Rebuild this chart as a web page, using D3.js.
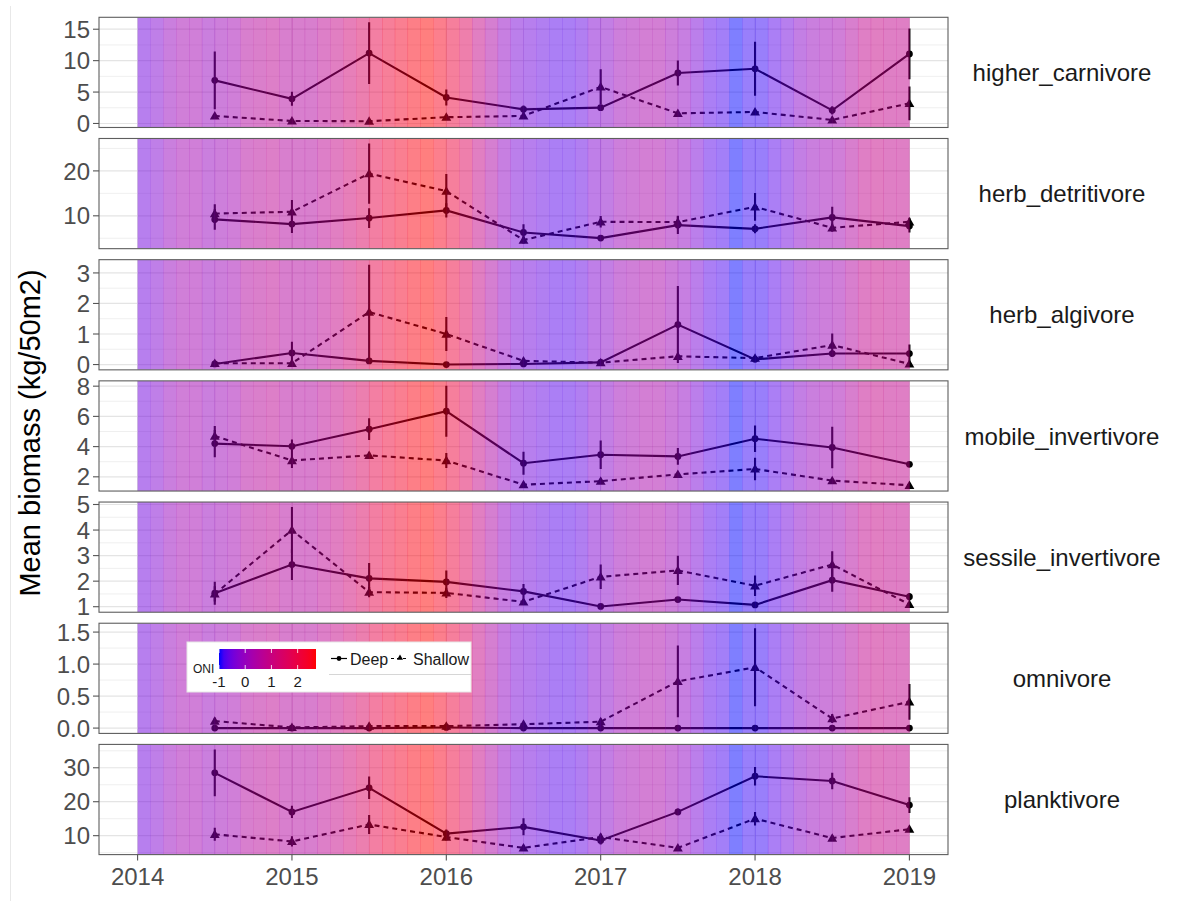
<!DOCTYPE html>
<html><head><meta charset="utf-8">
<script src="https://cdn.jsdelivr.net/npm/d3@7"></script>
<style>
body{margin:0;background:#fff}
text{font-family:"Liberation Sans",Arial,Helvetica,sans-serif}
</style>
</head><body>
<svg id="chart" width="1177" height="901"></svg>
<script>
// ---------------- data ----------------
const sampleYears = [2014.5, 2015, 2015.5, 2016, 2016.5, 2017, 2017.5, 2018, 2018.5, 2019];
const xTickYears = [2014, 2015, 2016, 2017, 2018, 2019];
const groups = ["higher_carnivore", "herb_detritivore", "herb_algivore", "mobile_invertivore",
                "sessile_invertivore", "omnivore", "planktivore"];

// monthly ONI (Jan..Dec) shading the background
const oni2014 = [-0.5, -0.3, 0.0, 0.2, 0.2, 0.0, 0.1, 0.2, 0.5, 0.6, 0.7, 0.5];
const oni2015 = [0.5, 0.5, 0.7, 0.9, 1.2, 1.5, 1.9, 2.2, 2.4, 2.6, 2.7, 2.5];
const oni2016 = [2.1, 1.6, 0.9, 0.4, -0.1, -0.4, -0.5, -0.6, -0.7, -0.7, -0.6, -0.3];
const oni2017 = [-0.2, 0.1, 0.2, 0.3, 0.3, 0.1, -0.1, -0.4, -0.7, -0.8, -1.0, -0.9];
const oni2018 = [-0.9, -0.7, -0.5, -0.2, 0.0, 0.1, 0.2, 0.5, 0.8, 0.9, 0.8, 0.8];
const oniLegendTicks = [-1, 0, 1, 2];

// higher_carnivore
const hcDeepMean = [6.86, 3.93, 11.2, 4.14, 2.25, 2.52, 8.03, 8.7, 2.09, 11.07];
const hcDeepSE = [4.6, 1.1, 4.9, 1.26, 0.6, 0.3, 2.0, 4.3, 0.65, 4.05];
const hcShallowMean = [1.2, 0.4, 0.36, 1.0, 1.2, 5.82, 1.62, 1.83, 0.57, 3.2];
const hcShallowSE = [0.3, 0.2, 0.2, 0.3, 0.4, 2.8, 0.3, 0.3, 0.2, 2.7];
const hcTicks = [0, 5, 10, 15];
// herb_detritivore
const hdDeepMean = [9.2, 8.16, 9.5, 11.2, 6.3, 5.04, 7.93, 7.1, 9.64, 7.71];
const hdDeepSE = [2.3, 2.0, 2.2, 1.6, 1.8, 0.4, 2.0, 1.0, 2.4, 1.4];
const hdShallowMean = [10.5, 10.9, 19.4, 15.5, 4.6, 8.67, 8.6, 12.0, 7.33, 8.67];
const hdShallowSE = [2.1, 2.6, 6.7, 3.8, 0.8, 1.3, 1.4, 3.1, 0.9, 0.9];
const hdTicks = [10, 20];
// herb_algivore
const haDeepMean = [0.02, 0.38, 0.12, 0.0, 0.02, 0.07, 1.31, 0.17, 0.36, 0.36];
const haDeepSE = [0.02, 0.37, 0.08, 0.01, 0.02, 0.03, 1.26, 0.04, 0.1, 0.3];
const haShallowMean = [0.04, 0.04, 1.72, 1.0, 0.12, 0.06, 0.27, 0.21, 0.64, 0.02];
const haShallowSE = [0.03, 0.03, 1.55, 0.56, 0.05, 0.03, 0.1, 0.05, 0.38, 0.02];
const haTicks = [0, 1, 2, 3];
// mobile_invertivore
const miDeepMean = [4.2, 4.02, 5.15, 6.34, 2.9, 3.46, 3.35, 4.52, 3.94, 2.83];
const miDeepSE = [0.9, 0.45, 0.72, 1.68, 0.76, 0.95, 0.55, 0.87, 1.37, 0.15];
const miShallowMean = [4.7, 3.08, 3.42, 3.08, 1.48, 1.71, 2.16, 2.52, 1.75, 1.44];
const miShallowSE = [0.67, 0.49, 0.2, 0.5, 0.08, 0.1, 0.15, 0.75, 0.1, 0.05];
const miTicks = [2, 4, 6, 8];
// sessile_invertivore
const siDeepMean = [1.53, 2.65, 2.11, 1.97, 1.6, 1.01, 1.28, 1.07, 2.04, 1.39];
const siDeepSE = [0.45, 0.6, 0.6, 0.45, 0.29, 0.03, 0.1, 0.05, 0.45, 0.15];
const siShallowMean = [1.5, 4.0, 1.57, 1.54, 1.19, 2.17, 2.42, 1.82, 2.65, 1.09];
const siShallowSE = [0.3, 0.9, 0.2, 0.2, 0.1, 0.48, 0.57, 0.4, 0.52, 0.08];
const siTicks = [1, 2, 3, 4, 5];
// omnivore
const omDeepMean = [0.0, 0.0, 0.0, 0.01, 0.0, 0.0, 0.0, 0.0, 0.0, 0.0];
const omDeepSE = [0.005, 0.005, 0.005, 0.005, 0.005, 0.005, 0.005, 0.005, 0.005, 0.005];
const omShallowMean = [0.11, 0.01, 0.03, 0.03, 0.06, 0.1, 0.73, 0.95, 0.15, 0.41];
const omShallowSE = [0.05, 0.01, 0.02, 0.02, 0.03, 0.05, 0.56, 0.61, 0.07, 0.28];
const omTicks = [0, 0.5, 1.0, 1.5];
// planktivore
const plDeepMean = [28.5, 17.0, 24.1, 10.6, 12.6, 8.6, 17.0, 27.5, 26.1, 19.0];
const plDeepSE = [6.9, 1.8, 3.3, 1.2, 2.5, 1.2, 1.0, 2.7, 2.4, 2.3];
const plShallowMean = [10.4, 8.3, 13.3, 9.6, 6.4, 9.6, 6.4, 15.0, 9.3, 11.9];
const plShallowSE = [1.9, 1.5, 2.8, 1.0, 0.5, 1.0, 0.5, 2.0, 0.8, 0.6];
const plTicks = [10, 20, 30];

const yTitle = "Mean biomass (kg/50m2)";
const seriesNames = ["Deep", "Shallow"];

// ---------------- build ----------------
const panels = [
  [hcDeepMean, hcDeepSE, hcShallowMean, hcShallowSE, hcTicks, 0],
  [hdDeepMean, hdDeepSE, hdShallowMean, hdShallowSE, hdTicks, 0],
  [haDeepMean, haDeepSE, haShallowMean, haShallowSE, haTicks, 0],
  [miDeepMean, miDeepSE, miShallowMean, miShallowSE, miTicks, 0],
  [siDeepMean, siDeepSE, siShallowMean, siShallowSE, siTicks, 0],
  [omDeepMean, omDeepSE, omShallowMean, omShallowSE, omTicks, 1],
  [plDeepMean, plDeepSE, plShallowMean, plShallowSE, plTicks, 0]
].map((p, i) => ({
  name: groups[i],
  series: [
    sampleYears.map((yr, j) => ({yr, m: p[0][j], se: p[1][j]})),
    sampleYears.map((yr, j) => ({yr, m: p[2][j], se: p[3][j]}))
  ],
  ticks: p[4], dec: p[5]
}));

const oniMonthly = [].concat(oni2014, oni2015, oni2016, oni2017, oni2018)
  .map((v, k) => ({start: 2014 + k / 12, end: 2014 + (k + 1) / 12, v}));

const svg = d3.select("#chart");
const L = 99, R = 948;
const x = d3.scaleLinear().domain([2013.75, 2019.25]).range([L, R]);
const band = d3.scaleBand().domain(groups).range([17.3, 854.6]).paddingInner(0.0908);
const oniExt = d3.extent(oniMonthly, d => d.v);
const oniColor = d3.scaleSequential(d3.interpolateLab("blue", "red")).domain(oniExt);

const tickGrey = "#4d4d4d";
const gridCol = "#e4e4e4";

// faint screenshot edge line
svg.append("line").attr("x1", 10.5).attr("x2", 10.5).attr("y1", 6).attr("y2", 901)
  .attr("stroke", "#e8e8e8").attr("stroke-width", 1);

panels.forEach((p, i) => {
  const top = band(p.name), h = band.bandwidth();
  const all = p.series.flat();
  const lo = d3.min(all, d => d.m - d.se), hi = d3.max(all, d => d.m + d.se);
  const pad = (hi - lo) * 0.05;
  const y = d3.scaleLinear().domain([lo - pad, hi + pad]).range([top + h, top]);
  const g = svg.append("g");
  const clipId = "clip" + i;
  g.append("clipPath").attr("id", clipId).append("rect")
    .attr("x", L).attr("y", top).attr("width", R - L).attr("height", h);
  const inner = g.append("g").attr("clip-path", `url(#${clipId})`);

  // grid
  const dom = y.domain();
  const step = p.ticks[1] - p.ticks[0];
  const minors = [];
  for (let k = -1; k < p.ticks.length; k++) {
    const v = p.ticks[0] + step * (k + 0.5);
    if (v > dom[0] && v < dom[1]) minors.push(v);
  }
  inner.selectAll(".ymin").data(minors).join("line")
    .attr("x1", L).attr("x2", R).attr("y1", d => y(d)).attr("y2", d => y(d))
    .attr("stroke", gridCol).attr("stroke-width", 0.6);
  inner.selectAll(".ymaj").data(p.ticks).join("line")
    .attr("x1", L).attr("x2", R).attr("y1", d => y(d)).attr("y2", d => y(d))
    .attr("stroke", gridCol).attr("stroke-width", 1.2);
  inner.selectAll(".xmin").data(xTickYears.slice(0, -1).map(v => v + 0.5)).join("line")
    .attr("y1", top).attr("y2", top + h).attr("x1", d => x(d)).attr("x2", d => x(d))
    .attr("stroke", gridCol).attr("stroke-width", 0.6);
  inner.selectAll(".xmaj").data(xTickYears).join("line")
    .attr("y1", top).attr("y2", top + h).attr("x1", d => x(d)).attr("x2", d => x(d))
    .attr("stroke", gridCol).attr("stroke-width", 1.2);

  // data
  p.series.forEach((s, si) => {
    inner.append("path").datum(s)
      .attr("d", d3.line().x(d => x(d.yr)).y(d => y(d.m)))
      .attr("fill", "none").attr("stroke", "#000").attr("stroke-width", 2.1)
      .attr("stroke-dasharray", si === 1 ? "5,4" : null);
    inner.selectAll(".eb" + si).data(s).join("line")
      .attr("x1", d => x(d.yr)).attr("x2", d => x(d.yr))
      .attr("y1", d => y(d.m - d.se)).attr("y2", d => y(d.m + d.se))
      .attr("stroke", "#000").attr("stroke-width", 2.1);
    if (si === 0) {
      inner.selectAll(".pt0").data(s).join("circle")
        .attr("cx", d => x(d.yr)).attr("cy", d => y(d.m)).attr("r", 3.4).attr("fill", "#000");
    } else {
      inner.selectAll(".pt1").data(s).join("path")
        .attr("d", d3.symbol(d3.symbolTriangle, 42))
        .attr("transform", d => `translate(${x(d.yr)},${y(d.m) + 0.8})`).attr("fill", "#000");
    }
  });

  // ONI bands on top, semi-transparent
  inner.selectAll(".oni").data(oniMonthly).join("rect")
    .attr("x", d => x(d.start)).attr("width", d => x(d.end) - x(d.start) + 0.3)
    .attr("y", top).attr("height", h)
    .attr("fill", d => oniColor(d.v)).attr("fill-opacity", 0.5);

  // border
  g.append("rect").attr("x", L).attr("y", top).attr("width", R - L).attr("height", h)
    .attr("fill", "none").attr("stroke", "#5e5e5e").attr("stroke-width", 1.1);

  // y axis ticks + labels
  const fmt = p.dec ? d3.format(".1f") : d3.format("d");
  g.selectAll(".yt").data(p.ticks).join("line")
    .attr("x1", L - 6).attr("x2", L).attr("y1", d => y(d)).attr("y2", d => y(d))
    .attr("stroke", "#555").attr("stroke-width", 1.1);
  g.selectAll(".yl").data(p.ticks).join("text")
    .attr("x", L - 9).attr("y", d => y(d)).attr("dy", "0.36em")
    .attr("text-anchor", "end").attr("font-size", 24).attr("fill", tickGrey)
    .text(d => fmt(d));

  // strip label
  g.append("text").attr("x", 1062).attr("y", top + h / 2).attr("dy", "0.36em")
    .attr("text-anchor", "middle").attr("font-size", 24).attr("fill", "#1a1a1a")
    .text(p.name);

  // x axis on bottom panel
  if (i === panels.length - 1) {
    const b = top + h;
    g.selectAll(".xt").data(xTickYears).join("line")
      .attr("x1", d => x(d)).attr("x2", d => x(d)).attr("y1", b).attr("y2", b + 6)
      .attr("stroke", "#555").attr("stroke-width", 1.1);
    g.selectAll(".xl").data(xTickYears).join("text")
      .attr("x", d => x(d)).attr("y", b + 30)
      .attr("text-anchor", "middle").attr("font-size", 24).attr("fill", tickGrey)
      .text(d => d);
  }
});

// y title
svg.append("text").attr("transform", "translate(30,433) rotate(-90)")
  .attr("text-anchor", "middle").attr("dominant-baseline", "central")
  .attr("font-size", 29).attr("fill", "#000").text(yTitle);

// ---------------- legend ----------------
const lg = svg.append("g");
lg.append("rect").attr("x", 187).attr("y", 642).attr("width", 284).attr("height", 50)
  .attr("fill", "#fff").attr("stroke", "#e6e6e6").attr("stroke-width", 1);
lg.append("line").attr("x1", 329).attr("x2", 471).attr("y1", 674.5).attr("y2", 674.5)
  .attr("stroke", "#d6d6d6").attr("stroke-width", 1);

const defs = svg.append("defs");
const grad = defs.append("linearGradient").attr("id", "oniGrad");
d3.range(0, 1.0001, 0.05).forEach(t => {
  grad.append("stop").attr("offset", t)
    .attr("stop-color", oniColor(oniExt[0] + t * (oniExt[1] - oniExt[0])));
});
const cbX = d3.scaleLinear().domain(oniExt).range([219, 316]);
lg.append("rect").attr("x", 219).attr("y", 649).attr("width", 97).attr("height", 20)
  .attr("fill", "url(#oniGrad)");
oniLegendTicks.forEach(t => {
  lg.append("line").attr("x1", cbX(t)).attr("x2", cbX(t)).attr("y1", 649).attr("y2", 653)
    .attr("stroke", "#fff").attr("stroke-width", 1).attr("stroke-opacity", 0.8);
  lg.append("line").attr("x1", cbX(t)).attr("x2", cbX(t)).attr("y1", 665).attr("y2", 669)
    .attr("stroke", "#fff").attr("stroke-width", 1).attr("stroke-opacity", 0.8);
});
lg.selectAll(".cbl").data(oniLegendTicks).join("text")
  .attr("x", d => cbX(d)).attr("y", 686.5).attr("text-anchor", "middle")
  .attr("font-size", 15).attr("fill", "#1a1a1a").text(d => d);
lg.append("text").attr("x", 193).attr("y", 673).attr("font-size", 12).attr("fill", "#1a1a1a").text("ONI");

// linetype / shape legend
lg.append("line").attr("x1", 331).attr("x2", 347).attr("y1", 658.5).attr("y2", 658.5)
  .attr("stroke", "#000").attr("stroke-width", 1.2);
lg.append("circle").attr("cx", 339).attr("cy", 658.5).attr("r", 2.4).attr("fill", "#000");
lg.append("text").attr("x", 350).attr("y", 664.5).attr("font-size", 16).attr("fill", "#1a1a1a").text(seriesNames[0]);
lg.append("line").attr("x1", 391).attr("x2", 409).attr("y1", 658.5).attr("y2", 658.5)
  .attr("stroke", "#000").attr("stroke-width", 1.2).attr("stroke-dasharray", "3,3");
lg.append("path").attr("d", d3.symbol(d3.symbolTriangle, 16))
  .attr("transform", "translate(400,658)").attr("fill", "#000");
lg.append("text").attr("x", 413).attr("y", 664.5).attr("font-size", 16).attr("fill", "#1a1a1a").text(seriesNames[1]);
</script>
</body></html>
